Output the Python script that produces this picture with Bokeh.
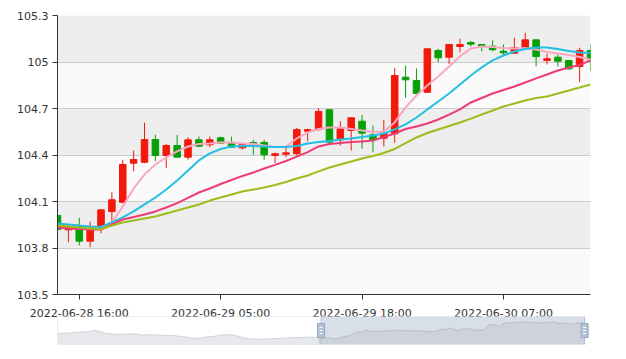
import pandas as pd
from bokeh.plotting import figure
from bokeh.models import Range1d, FixedTicker, NumeralTickFormatter, ColumnDataSource
from bokeh.layouts import column
from bokeh.embed import file_html
from bokeh.resources import INLINE

# ---------------- data ----------------
times = [t.strftime("%Y-%m-%d %H:%M") for t in pd.date_range("2022-06-28 14:00", periods=50, freq="h")]

opens = [104.010, 103.917, 103.939, 103.844, 103.934, 104.035, 104.095, 104.347, 104.353, 104.500,
         104.397, 104.461, 104.386, 104.498, 104.466, 104.511, 104.481, 104.446, 104.481, 104.481,
         104.397, 104.405, 104.408, 104.553, 104.564, 104.692, 104.498, 104.558, 104.618, 104.530,
         104.508, 104.537, 104.902, 104.881, 104.805, 105.074, 105.031, 105.100, 105.126, 105.113,
         105.102, 105.070, 105.057, 105.089, 105.143, 105.010, 105.031, 105.010, 104.971, 105.074]
highs = [104.020, 103.950, 103.995, 103.971, 104.050, 104.160, 104.369, 104.429, 104.608, 104.530,
         104.472, 104.530, 104.515, 104.519, 104.519, 104.519, 104.519, 104.479, 104.498, 104.498,
         104.416, 104.455, 104.575, 104.570, 104.702, 104.695, 104.618, 104.642, 104.659, 104.590,
         104.627, 104.960, 104.977, 104.958, 105.085, 105.085, 105.115, 105.150, 105.134, 105.115,
         105.139, 105.113, 105.156, 105.188, 105.143, 105.053, 105.048, 105.010, 105.092, 105.113]
lows = [103.745, 103.837, 103.816, 103.805, 103.895, 103.966, 104.089, 104.295, 104.347, 104.360,
        104.317, 104.386, 104.369, 104.450, 104.450, 104.472, 104.446, 104.435, 104.401, 104.369,
        104.347, 104.386, 104.397, 104.489, 104.558, 104.472, 104.461, 104.429, 104.440, 104.418,
        104.455, 104.479, 104.769, 104.797, 104.800, 104.999, 104.988, 105.063, 105.100, 105.070,
        105.070, 105.042, 105.053, 105.087, 104.973, 104.984, 104.971, 104.950, 104.870, 104.941]
closes = [103.919, 103.934, 103.844, 103.939, 104.046, 104.111, 104.339, 104.371, 104.500, 104.397,
          104.461, 104.386, 104.498, 104.457, 104.498, 104.476, 104.450, 104.472, 104.468, 104.401,
          104.408, 104.414, 104.564, 104.564, 104.681, 104.483, 104.569, 104.640, 104.541, 104.498,
          104.541, 104.913, 104.885, 104.797, 105.085, 105.027, 105.113, 105.113, 105.115, 105.100,
          105.079, 105.059, 105.092, 105.143, 105.035, 105.021, 105.005, 104.956, 105.074, 105.021]

ma5 = [103.945, 103.939, 103.932, 103.926, 103.932, 103.965, 104.068, 104.184, 104.274, 104.339,
       104.384, 104.423, 104.455, 104.471, 104.474, 104.481, 104.481, 104.474, 104.471, 104.461,
       104.452, 104.455, 104.507, 104.545, 104.568, 104.577, 104.577, 104.568, 104.558, 104.548,
       104.552, 104.610, 104.707, 104.784, 104.848, 104.907, 104.971, 105.036, 105.087, 105.100,
       105.097, 105.090, 105.087, 105.090, 105.081, 105.065, 105.055, 105.045, 105.032, 105.016]
ma10 = [103.958, 103.952, 103.945, 103.939, 103.936, 103.965, 103.997, 104.036, 104.081, 104.126,
        104.177, 104.236, 104.300, 104.365, 104.410, 104.439, 104.455, 104.458, 104.458, 104.455,
        104.452, 104.452, 104.458, 104.474, 104.484, 104.490, 104.500, 104.507, 104.516, 104.526,
        104.539, 104.565, 104.597, 104.642, 104.694, 104.745, 104.797, 104.855, 104.913, 104.965,
        105.010, 105.042, 105.068, 105.084, 105.094, 105.094, 105.084, 105.071, 105.061, 105.058]
ma20 = [103.932, 103.926, 103.923, 103.919, 103.919, 103.952, 103.984, 104.000, 104.016, 104.036,
        104.061, 104.090, 104.123, 104.158, 104.184, 104.213, 104.239, 104.265, 104.287, 104.313,
        104.336, 104.361, 104.390, 104.419, 104.455, 104.471, 104.477, 104.484, 104.487, 104.494,
        104.516, 104.539, 104.568, 104.584, 104.603, 104.629, 104.661, 104.694, 104.739, 104.768,
        104.797, 104.819, 104.842, 104.868, 104.894, 104.919, 104.945, 104.965, 104.981, 105.010]
ma30 = [103.945, 103.939, 103.932, 103.926, 103.923, 103.945, 103.965, 103.977, 103.990, 104.003,
        104.023, 104.042, 104.061, 104.081, 104.106, 104.126, 104.145, 104.165, 104.177, 104.190,
        104.207, 104.226, 104.248, 104.268, 104.294, 104.319, 104.339, 104.358, 104.377, 104.394,
        104.413, 104.439, 104.477, 104.513, 104.542, 104.565, 104.587, 104.610, 104.635, 104.661,
        104.687, 104.713, 104.732, 104.752, 104.768, 104.777, 104.797, 104.816, 104.836, 104.855]

# earlier closes, only visible as the slider's data shadow
hist_close = [104.25, 104.27, 104.29, 104.32, 104.36, 104.38, 104.42, 104.49, 104.42, 104.27,
              104.23, 104.20, 104.20, 104.23, 104.25, 104.20, 104.14, 104.16, 104.16, 104.14,
              104.12, 104.12, 104.09, 104.05, 104.00, 103.94, 103.88, 103.94, 104.00, 104.03,
              104.09, 104.16, 104.17, 104.14, 104.05, 103.94, 103.86, 103.84, 103.83, 103.85,
              103.86, 103.88, 103.90, 103.93, 103.95, 103.97, 103.97, 103.99, 103.97, 103.96]

y_ticks = [103.5, 103.8, 104.1, 104.4, 104.7, 105.0, 105.3]
label_every = 13
first_label = 2
zoom_start_pct = 50
zoom_end_pct = 100

UP = "#f2190b"
DOWN = "#06a006"
MA_COLORS = ["#f9a8c1", "#22bfe0", "#ee3b76", "#9cbd1c"]
FONT = "DejaVu Sans"

# ---------------- main chart ----------------
n = len(times)
x = list(range(n))
colors = [UP if c >= o else DOWN for o, c in zip(opens, closes)]
src = ColumnDataSource(dict(
    x=x, o=opens, h=highs, l=lows, c=closes,
    top=[max(o, c) for o, c in zip(opens, closes)],
    bottom=[min(o, c) for o, c in zip(opens, closes)],
    color=colors,
))

p = figure(width=618, height=330, output_backend="svg", toolbar_location=None,
           x_range=Range1d(0, n - 1), y_range=Range1d(y_ticks[0], y_ticks[-1]),
           min_border_left=54, min_border_right=28, min_border_top=15, min_border_bottom=36)
p.outline_line_color = None
p.background_fill_color = "#fafafa"
p.border_fill_color = "white"

p.xgrid.visible = False
p.ygrid.ticker = FixedTicker(ticks=y_ticks)
p.ygrid.grid_line_color = "#cccccc"
p.ygrid.band_fill_color = "#eeeeee"
p.ygrid.band_fill_alpha = 1.0

p.yaxis.ticker = FixedTicker(ticks=y_ticks)
p.yaxis.formatter = NumeralTickFormatter(format="0.[0]")
label_idx = list(range(first_label, n, label_every))
p.xaxis.ticker = FixedTicker(ticks=label_idx)
p.xaxis.major_label_overrides = {i: times[i] for i in label_idx}

for ax in (p.xaxis[0], p.yaxis[0]):
    ax.axis_line_color = "#333333"
    ax.major_tick_line_color = "#333333"
    ax.major_tick_out = 5
    ax.major_tick_in = 0
    ax.minor_tick_line_color = None
    ax.major_label_text_font = FONT
    ax.major_label_text_font_size = "11px"
    ax.major_label_text_color = "#333333"
p.yaxis.major_label_standoff = 4
p.xaxis.major_label_standoff = 7

p.segment(x0="x", y0="l", x1="x", y1="h", color="color", line_width=1, source=src)
p.vbar(x="x", width=0.6, top="top", bottom="bottom", fill_color="color", line_color="color",
       line_width=1, source=src)

for vals, col in zip([ma5, ma10, ma20, ma30], MA_COLORS):
    p.line(x, vals, line_width=2, color=col)

# ---------------- data-zoom slider ----------------
all_close = hist_close + closes
n_all = len(all_close)
lo_d, hi_d = min(all_close), max(all_close)
pad = (hi_d - lo_d) * 0.3
y_lo, y_hi = lo_d - pad, hi_d + pad
slider_px = 535
frame_px = 541
sel_start = (n_all - 1) * zoom_start_pct / 100
sel_end = (n_all - 1) * zoom_end_pct / 100

s = figure(width=618, height=33, output_backend="svg", toolbar_location=None,
           x_range=Range1d(0, (n_all - 1) * frame_px / slider_px), y_range=Range1d(y_lo, y_hi),
           x_axis_type=None, y_axis_type=None,
           min_border_left=57, min_border_right=20, min_border_top=0, min_border_bottom=5,
           margin=(-14, 0, 0, 0))
s.outline_line_color = None
s.background_fill_color = None
s.border_fill_color = None
s.grid.visible = False

xs_all = list(range(n_all))
s.varea(x=xs_all, y1=[y_lo] * n_all, y2=all_close, fill_color="#e6e8ec")
s.line(xs_all, all_close, color="#cfd3d9", line_width=1)

s.quad(left=[sel_start], right=[sel_end], bottom=[y_lo], top=[y_hi],
       fill_color="#d9dfe9", line_color=None)
sel_x = [i for i in xs_all if i >= int(sel_start)]
sel_y = [all_close[i] for i in sel_x]
s.varea(x=sel_x, y1=[y_lo] * len(sel_x), y2=sel_y, fill_color="#cdd2db")
s.line(sel_x, sel_y, color="#b7bec9", line_width=1)

s.quad(left=[0], right=[n_all - 1], bottom=[y_lo], top=[y_hi],
       fill_color=None, line_color="#d6dbe3", line_width=1)
s.segment(x0=[sel_start, sel_end], x1=[sel_start, sel_end], y0=[y_lo] * 2, y1=[y_hi] * 2,
          line_color="#b3c0d2", line_width=1)
mid = (y_lo + y_hi) / 2
s.rect(x=[sel_start, sel_end], y=[mid, mid], width=7, height=14,
       width_units="screen", height_units="screen",
       fill_color="#b4c2d6", line_color="#95a7c0", line_width=1)
for dy in (-3, 0, 3):
    s.rect(x=[sel_start, sel_end], y=[mid + dy * (y_hi - y_lo) / 28] * 2, width=3, height=1,
           width_units="screen", height_units="screen", fill_color="white", line_color=None)

layout = column(p, s)
open("out.html", "w").write(file_html(layout, INLINE))
